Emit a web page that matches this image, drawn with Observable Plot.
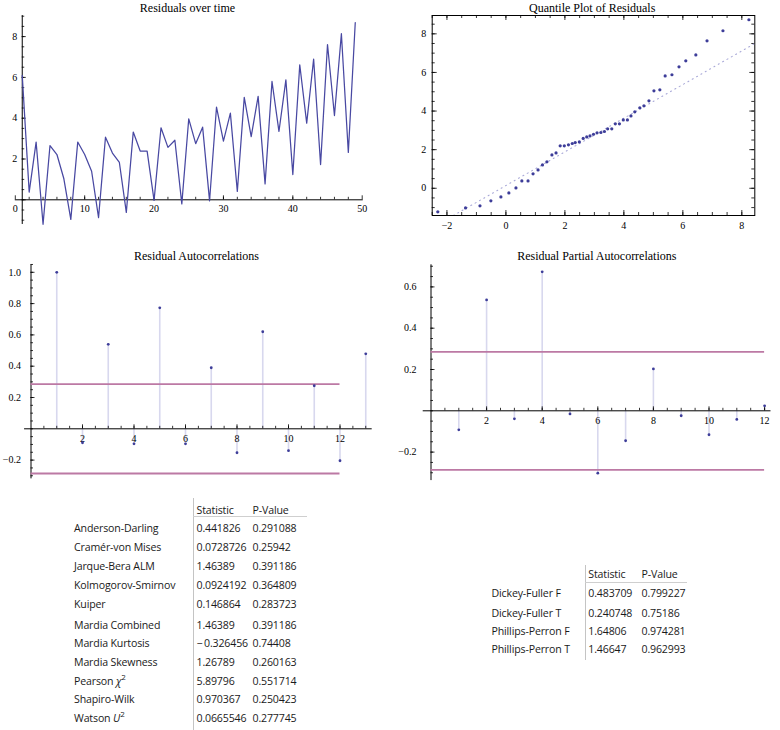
<!DOCTYPE html>
<html><head><meta charset="utf-8">
<script src="https://cdn.jsdelivr.net/npm/d3@7"></script>
<script src="https://cdn.jsdelivr.net/npm/@observablehq/plot@0.6"></script>
<style>
body{margin:0;background:#fff;}
#root{position:relative;width:780px;height:730px;overflow:hidden;background:#fff;}
.cell{position:absolute;font-family:"Open Sans",sans-serif;font-size:10.6px;letter-spacing:-0.15px;color:#1a1a1a;white-space:nowrap;line-height:14px;transform:translateY(-50%);}
.cell sup{font-size:8px;line-height:0;}
</style></head><body><div id="root"></div>
<script>
// ---------------- data ----------------
const residuals = [6.1,0.38,2.83,-1.2,2.66,2.22,1.03,-0.96,2.83,2.22,1.4,-0.87,3.07,2.29,1.83,-0.62,3.32,2.39,2.39,-0.03,3.53,2.57,2.92,-0.2,3.97,2.75,3.56,-0.05,4.54,2.88,4.25,0.41,5.02,3.1,5.07,0.78,5.8,3.35,5.88,1.24,6.62,3.76,6.9,1.73,7.61,4.13,8.14,2.32,8.69];
const quantX = [-2.31,-1.37,-0.88,-0.51,-0.17,0.10,0.34,0.54,0.75,0.92,1.09,1.24,1.39,1.56,1.70,1.84,1.98,2.12,2.25,2.35,2.49,2.62,2.74,2.85,2.97,3.09,3.22,3.34,3.45,3.59,3.71,3.85,3.98,4.12,4.24,4.37,4.54,4.68,4.85,5.02,5.22,5.40,5.63,5.87,6.10,6.44,6.82,7.36,8.24];
const quantY = [-1.22,-1.02,-0.91,-0.65,-0.45,-0.24,0.02,0.38,0.38,0.75,0.95,1.21,1.37,1.73,1.83,2.2,2.2,2.25,2.32,2.37,2.40,2.58,2.66,2.71,2.80,2.87,2.89,2.94,3.08,3.08,3.34,3.34,3.54,3.54,3.75,3.96,4.17,4.27,4.53,5.05,5.10,5.82,5.88,6.29,6.60,6.91,7.64,8.16,8.73];
const refLineX = [-1.78, 8.44];
const refLineY = [-1.41, 7.50];
const acf = [1.0,-0.089,0.54,-0.096,0.773,-0.096,0.39,-0.153,0.62,-0.14,0.275,-0.204,0.479];
const pacf = [-0.092,0.537,-0.039,0.673,-0.015,-0.302,-0.145,0.203,-0.024,-0.116,-0.042,0.024];
const confBound = [0.2857, -0.2857];

const timeXTicks = [0,10,20,30,40,50];
const timeYTicks = [2,4,6,8];
const quantXTicks = [-2,0,2,4,6,8];
const quantXTickLabels = ["−2","0","2","4","6","8"];
const quantYTicks = [0,2,4,6,8];
const acfXTicks = [2,4,6,8,10,12];
const acfYTicks = [-0.2,0.2,0.4,0.6,0.8,1.0];
const acfYTickLabels = ["−0.2","0.2","0.4","0.6","0.8","1.0"];
const pacfXTicks = [2,4,6,8,10,12];
const pacfYTicks = [-0.2,0.2,0.4,0.6];
const pacfYTickLabels = ["−0.2","0.2","0.4","0.6"];

const titles = ["Residuals over time","Quantile Plot of Residuals","Residual Autocorrelations","Residual Partial Autocorrelations"];

const normTests = ["Anderson-Darling","Cramér-von Mises","Jarque-Bera ALM","Kolmogorov-Smirnov","Kuiper","Mardia Combined","Mardia Kurtosis","Mardia Skewness","Pearson <i>χ</i><sup>2</sup>","Shapiro-Wilk","Watson <i>U</i><sup>2</sup>"];
const normStat = ["0.441826","0.0728726","1.46389","0.0924192","0.146864","1.46389","−\u20090.326456","1.26789","5.89796","0.970367","0.0665546"];
const normP = ["0.291088","0.25942","0.391186","0.364809","0.283723","0.391186","0.74408","0.260163","0.551714","0.250423","0.277745"];
const statTests = ["Dickey-Fuller F","Dickey-Fuller T","Phillips-Perron F","Phillips-Perron T"];
const statStat = ["0.483709","0.240748","1.64806","1.46647"];
const statP = ["0.799227","0.75186","0.974281","0.962993"];
const tableHeader = ["Statistic","P-Value"];

// ---------------- helpers ----------------
const root = document.getElementById("root");
const serif = "Liberation Serif";
const ink = "#3d3d99";
const stemColor = "#d8d8ee";
const confColor = "#bc79a4";

function per(s){ return Math.abs((s.range[1]-s.range[0])/(s.domain[1]-s.domain[0])); }
function steps(a, b, st){ const n = Math.round((b-a)/st); return d3.range(n+1).map(i => +(a + i*st).toFixed(6)); }

function axisMarks(o){
  const kx = per(o.x), ky = per(o.y);
  const maj = 4, mn = 2.5;
  const tk = {stroke:"#000", strokeWidth:0.8};
  return [
    Plot.ruleY([o.oy], {x1:o.xExt[0], x2:o.xExt[1], stroke:"#000", strokeWidth:1}),
    Plot.ruleX([o.ox], {y1:o.yExt[0], y2:o.yExt[1], stroke:"#000", strokeWidth:1}),
    Plot.ruleX(o.xMin, {x:d=>d, y1:o.oy, y2:o.oy + mn/ky, ...tk}),
    Plot.ruleX(o.xMaj, {x:d=>d, y1:o.oy, y2:o.oy + maj/ky, ...tk}),
    Plot.ruleY(o.yMin, {y:d=>d, x1:o.ox, x2:o.ox + mn/kx, ...tk}),
    Plot.ruleY(o.yMaj, {y:d=>d, x1:o.ox, x2:o.ox + maj/kx, ...tk}),
    Plot.text(o.xLab, {x:d=>d, y:o.oy, text:o.xFmt || (d=>String(d)), dy:o.xDy, fontFamily:serif, fontSize:10, fill:"#000", lineAnchor:"middle"}),
    Plot.text(o.yLab, {x:o.ox, y:d=>d, text:o.yFmt || (d=>String(d)), dx:o.yDx, textAnchor:"end", fontFamily:serif, fontSize:10, fill:"#000", lineAnchor:"middle"})
  ];
}
function place(svg, left, top){
  svg.style.position = "absolute";
  svg.style.left = left + "px";
  svg.style.top = top + "px";
  svg.style.background = "transparent";
  svg.style.overflow = "visible";
  root.appendChild(svg);
}
function titleMark(t, dx, dy){
  return Plot.text([t], {frameAnchor:"top", dx, dy, fontFamily:serif, fontSize:12, fill:"#000", lineAnchor:"middle"});
}

// ---------------- chart 1: residuals over time ----------------
{
  const x = {domain:[0,50], range:[14.8,361.7]};
  const y = {domain:[0,8], range:[199.3,36.1]};
  const svg = Plot.plot({
    width:390, height:240, margin:0,
    x:{...x, axis:null}, y:{...y, axis:null},
    marks:[
      ...axisMarks({x, y, ox:1, oy:0, xExt:[0,50.15], yExt:[-1.21,9.03],
        xMaj:timeXTicks, xMin:steps(2,48,2), yMaj:[0,...timeYTicks], yMin:steps(-1,9,0.5),
        xLab:timeXTicks, yLab:timeYTicks, xDy:9, yDx:-5}),
      Plot.line(residuals, {x:(d,i)=>i+1, y:d=>d, stroke:"#4848a2", strokeWidth:1.25}),
      titleMark(titles[0], -8, 7.5)
    ]
  });
  place(svg, 0, 0);
}

// ---------------- chart 2: quantile plot ----------------
{
  const x = {domain:[-2.5,8.44], range:[41.7,364.3]};
  const y = {domain:[-1.41,8.95], range:[215,15]};
  const kx = per(x), ky = per(y);
  const tk = {stroke:"#000", strokeWidth:0.8};
  const xMin = steps(-2.5,8,0.5), yMin = steps(-1,8.5,0.5);
  const maj = 5, mn = 3;
  const svg = Plot.plot({
    width:390, height:240, marginLeft:41.7, marginRight:25.7, marginTop:15, marginBottom:25,
    x:{...x, axis:null}, y:{...y, axis:null},
    marks:[
      Plot.ruleX(xMin, {x:d=>d, y1:y.domain[0], y2:y.domain[0]+mn/ky, ...tk}),
      Plot.ruleX(quantXTicks, {x:d=>d, y1:y.domain[0], y2:y.domain[0]+maj/ky, ...tk}),
      Plot.ruleX(xMin, {x:d=>d, y1:y.domain[1], y2:y.domain[1]-mn/ky, ...tk}),
      Plot.ruleX(quantXTicks, {x:d=>d, y1:y.domain[1], y2:y.domain[1]-maj/ky, ...tk}),
      Plot.ruleY(yMin, {y:d=>d, x1:x.domain[0], x2:x.domain[0]+mn/kx, ...tk}),
      Plot.ruleY(quantYTicks, {y:d=>d, x1:x.domain[0], x2:x.domain[0]+maj/kx, ...tk}),
      Plot.ruleY(yMin, {y:d=>d, x1:x.domain[1], x2:x.domain[1]-mn/kx, ...tk}),
      Plot.ruleY(quantYTicks, {y:d=>d, x1:x.domain[1], x2:x.domain[1]-maj/kx, ...tk}),
      Plot.frame({stroke:"#000", strokeWidth:1}),
      Plot.text(quantXTicks, {x:d=>d, y:y.domain[0], text:(d,i)=>quantXTickLabels[i], dy:10, fontFamily:serif, fontSize:10, fill:"#000", lineAnchor:"middle"}),
      Plot.text(quantYTicks, {x:x.domain[0], y:d=>d, text:d=>String(d), dx:-6, textAnchor:"end", fontFamily:serif, fontSize:10, fill:"#000", lineAnchor:"middle"}),
      Plot.line(refLineX.map((v,i)=>({x:v, y:refLineY[i]})), {x:"x", y:"y", stroke:"#a9a9d8", strokeWidth:1.1, strokeDasharray:"1 4", clip:true}),
      Plot.dot(quantX.map((v,i)=>({x:v, y:quantY[i]})), {x:"x", y:"y", r:1.6, fill:ink}),
      titleMark(titles[1], -1.3, -7.5)
    ]
  });
  place(svg, 390, 0);
}

// ---------------- chart 3: autocorrelations ----------------
{
  const x = {domain:[0,13], range:[30.5,365.25]};
  const y = {domain:[0,1], range:[188.3,31.8]};
  const svg = Plot.plot({
    width:390, height:250, margin:0,
    x:{...x, axis:null}, y:{...y, axis:null},
    marks:[
      Plot.ruleX(acf, {x:(d,i)=>i+1, y1:0, y2:d=>d, stroke:stemColor, strokeWidth:1.6}),
      ...axisMarks({x, y, ox:0, oy:0, xExt:[-0.25,13.25], yExt:[-0.32,1.048],
        xMaj:acfXTicks, xMin:steps(0.5,13,0.5), yMaj:acfYTicks, yMin:steps(-0.3,1.05,0.05),
        xLab:acfXTicks, yLab:acfYTicks, yFmt:(d,i)=>acfYTickLabels[i], xDy:9.5, yDx:-10}),
      Plot.ruleY(confBound, {y:d=>d, x1:0, x2:12, stroke:confColor, strokeWidth:1.8}),
      Plot.dot(acf, {x:(d,i)=>i+1, y:d=>d, r:1.4, fill:ink}),
      titleMark(titles[2], 1, 15.7)
    ]
  });
  place(svg, 0, 240);
}

// ---------------- chart 4: partial autocorrelations ----------------
{
  const x = {domain:[0,12], range:[40.5,374.1]};
  const y = {domain:[0,0.6], range:[170.3,46.4]};
  const svg = Plot.plot({
    width:390, height:250, margin:0,
    x:{...x, axis:null}, y:{...y, axis:null},
    marks:[
      Plot.ruleX(pacf, {x:(d,i)=>i+1, y1:0, y2:d=>d, stroke:stemColor, strokeWidth:1.6}),
      ...axisMarks({x, y, ox:0, oy:0, xExt:[-0.28,12.23], yExt:[-0.338,0.707],
        xMaj:pacfXTicks, xMin:steps(0.5,12,0.5), yMaj:pacfYTicks, yMin:steps(-0.3,0.7,0.05),
        xLab:pacfXTicks, yLab:pacfYTicks, yFmt:(d,i)=>pacfYTickLabels[i], xDy:10, yDx:-14.5}),
      Plot.ruleY(confBound, {y:d=>d, x1:0, x2:12, stroke:confColor, strokeWidth:1.8}),
      Plot.dot(pacf, {x:(d,i)=>i+1, y:d=>d, r:1.4, fill:ink}),
      titleMark(titles[3], 11.3, 15.7)
    ]
  });
  place(svg, 390, 240);
}

// ---------------- tables ----------------
function addText(html, left, cy){
  const d = document.createElement("div");
  d.className = "cell"; d.innerHTML = html;
  d.style.left = left + "px"; d.style.top = cy + "px";
  root.appendChild(d);
}
function addLine(x1, y1, x2, y2, color){
  const d = document.createElement("div");
  d.style.position = "absolute";
  d.style.left = x1 + "px"; d.style.top = y1 + "px";
  d.style.width = Math.max(1, x2 - x1) + "px";
  d.style.height = Math.max(1, y2 - y1) + "px";
  d.style.background = color;
  root.appendChild(d);
}
function table(o){
  addLine(o.vx, o.vy[0], o.vx + 1, o.vy[1], "#c4c4c4");
  addLine(o.vx, o.hy, o.hx2, o.hy + 1, "#cfcfcf");
  addText(tableHeader[0], o.cols[1], o.headY);
  addText(tableHeader[1], o.cols[2], o.headY);
  o.labels.forEach((l, i) => {
    addText(l, o.cols[0], o.rowY[i]);
    addText(o.stats[i], o.cols[1], o.rowY[i]);
    addText(o.ps[i], o.cols[2], o.rowY[i]);
  });
}
table({labels:normTests, stats:normStat, ps:normP, cols:[74,196.5,252.5], headY:509.5,
  rowY:[527.5,546.5,565.5,584.5,603.5,624.5,643,661.5,680.5,699,717.5],
  vx:192.5, vy:[498,730], hy:516, hx2:307});
table({labels:statTests, stats:statStat, ps:statP, cols:[491.5,588.3,641.5], headY:574,
  rowY:[593.3,612.7,631,649.3], vx:584.5, vy:[565,660], hy:581.5, hx2:687});
</script>
</body></html>
